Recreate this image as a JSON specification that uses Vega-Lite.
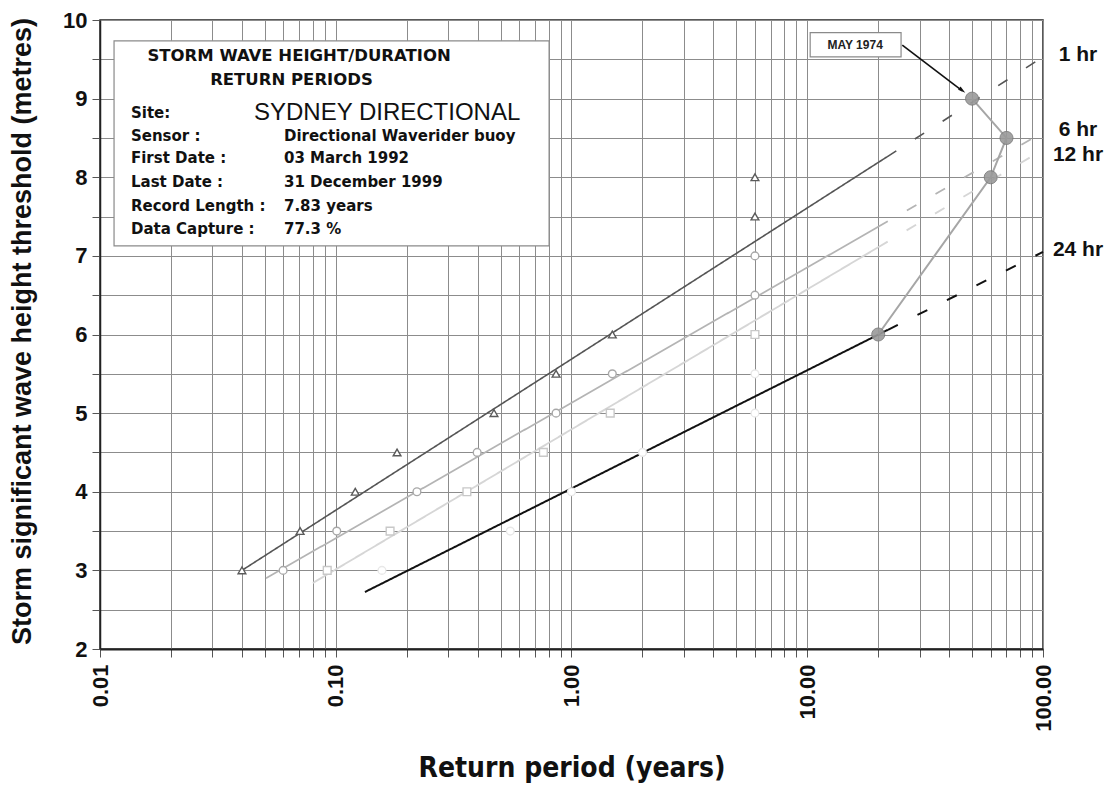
{
  "$schema": "https://vega.github.io/schema/vega-lite/v6.json",
  "width": 943,
  "height": 629,
  "autosize": {"type": "none"},
  "padding": {"left": 100, "top": 20, "right": 75, "bottom": 139},
  "background": "white",
  "config": {
    "view": {"stroke": "#222222", "strokeWidth": 1.5},
    "font": "Liberation Sans"
  },
  "datasets": {
    "fits": [
      {"duration": "1 hr", "part": "solid", "x": 0.04, "y": 3.0},
      {"duration": "1 hr", "part": "solid", "x": 21.8, "y": 8.26},
      {"duration": "1 hr", "part": "dashed", "x": 21.8, "y": 8.26},
      {"duration": "1 hr", "part": "dashed", "x": 100, "y": 9.53},
      {"duration": "6 hr", "part": "solid", "x": 0.0506, "y": 2.9},
      {"duration": "6 hr", "part": "solid", "x": 20, "y": 7.37},
      {"duration": "6 hr", "part": "dashed", "x": 20, "y": 7.37},
      {"duration": "6 hr", "part": "dashed", "x": 100, "y": 8.57},
      {"duration": "12 hr", "part": "solid", "x": 0.08, "y": 2.84},
      {"duration": "12 hr", "part": "solid", "x": 20, "y": 7.11},
      {"duration": "12 hr", "part": "dashed", "x": 20, "y": 7.11},
      {"duration": "12 hr", "part": "dashed", "x": 100, "y": 8.35},
      {"duration": "24 hr", "part": "solid", "x": 0.133, "y": 2.725},
      {"duration": "24 hr", "part": "solid", "x": 22, "y": 6.06},
      {"duration": "24 hr", "part": "dashed", "x": 22, "y": 6.06},
      {"duration": "24 hr", "part": "dashed", "x": 100, "y": 7.05}
    ],
    "obs": [
      {"duration": "1 hr", "x": 0.04, "y": 3.0},
      {"duration": "1 hr", "x": 0.0706, "y": 3.5},
      {"duration": "1 hr", "x": 0.121, "y": 4.0},
      {"duration": "1 hr", "x": 0.182, "y": 4.5},
      {"duration": "1 hr", "x": 0.469, "y": 5.0},
      {"duration": "1 hr", "x": 0.86, "y": 5.5},
      {"duration": "1 hr", "x": 1.49, "y": 6.0},
      {"duration": "1 hr", "x": 6.0, "y": 7.5},
      {"duration": "1 hr", "x": 6.0, "y": 8.0},
      {"duration": "6 hr", "x": 0.0598, "y": 3.0},
      {"duration": "6 hr", "x": 0.101, "y": 3.5},
      {"duration": "6 hr", "x": 0.221, "y": 4.0},
      {"duration": "6 hr", "x": 0.398, "y": 4.5},
      {"duration": "6 hr", "x": 0.86, "y": 5.0},
      {"duration": "6 hr", "x": 1.49, "y": 5.5},
      {"duration": "6 hr", "x": 6.0, "y": 6.5},
      {"duration": "6 hr", "x": 6.0, "y": 7.0},
      {"duration": "12 hr", "x": 0.092, "y": 3.0},
      {"duration": "12 hr", "x": 0.17, "y": 3.5},
      {"duration": "12 hr", "x": 0.36, "y": 4.0},
      {"duration": "12 hr", "x": 0.76, "y": 4.5},
      {"duration": "12 hr", "x": 1.46, "y": 5.0},
      {"duration": "12 hr", "x": 6.0, "y": 6.0},
      {"duration": "24 hr", "x": 0.157, "y": 3.0},
      {"duration": "24 hr", "x": 0.55, "y": 3.5},
      {"duration": "24 hr", "x": 1.0, "y": 4.0},
      {"duration": "24 hr", "x": 2.0, "y": 4.5},
      {"duration": "24 hr", "x": 6.0, "y": 5.0},
      {"duration": "24 hr", "x": 6.0, "y": 5.5}
    ],
    "storm": [
      {"order": 1, "x": 20, "y": 6.0},
      {"order": 2, "x": 60, "y": 8.0},
      {"order": 3, "x": 70, "y": 8.5},
      {"order": 4, "x": 50, "y": 9.0}
    ],
    "infoBox": [{"x": 0.01147, "x2": 0.8035, "y": 9.735, "y2": 7.127}],
    "infoTitle": [
      {"x": 0.0699, "y": 9.54, "label": "STORM WAVE HEIGHT/DURATION"},
      {"x": 0.0649, "y": 9.24, "label": "RETURN PERIODS"}
    ],
    "infoSite": [{"x": 0.045, "y": 8.82, "label": "SYDNEY DIRECTIONAL"}],
    "infoKeys": [
      {"x": 0.01353, "y": 8.82, "label": "Site:"},
      {"x": 0.01353, "y": 8.52, "label": "Sensor :"},
      {"x": 0.01353, "y": 8.24, "label": "First Date :"},
      {"x": 0.01353, "y": 7.94, "label": "Last Date :"},
      {"x": 0.01353, "y": 7.64, "label": "Record Length :"},
      {"x": 0.01353, "y": 7.34, "label": "Data Capture :"}
    ],
    "infoValues": [
      {"x": 0.0603, "y": 8.52, "label": "Directional Waverider buoy"},
      {"x": 0.0603, "y": 8.24, "label": "03 March 1992"},
      {"x": 0.0603, "y": 7.94, "label": "31 December 1999"},
      {"x": 0.0603, "y": 7.64, "label": "7.83 years"},
      {"x": 0.0603, "y": 7.34, "label": "77.3 %"}
    ],
    "noteBox": [{"x": 10.29, "x2": 25.0, "y": 9.84, "y2": 9.53}],
    "noteText": [{"x": 15.96, "y": 9.685, "label": "MAY 1974"}],
    "arrow": [
      {"x": 25.3, "y": 9.68},
      {"x": 45.5, "y": 9.1}
    ],
    "arrowTip": [{"x": 46.8, "y": 9.074}],
    "durLabels": [
      {"x": 100, "y": 9.56, "label": "1 hr"},
      {"x": 100, "y": 8.6, "label": "6 hr"},
      {"x": 100, "y": 8.28, "label": "12 hr"},
      {"x": 100, "y": 7.08, "label": "24 hr"}
    ]
  },
  "encoding": {
    "x": {
      "field": "x",
      "type": "quantitative",
      "scale": {"type": "log", "domain": [0.01, 100], "nice": false},
      "axis": {
        "values": [0.01, 0.02, 0.03, 0.04, 0.05, 0.06, 0.07, 0.08, 0.09, 0.1, 0.2, 0.3, 0.4, 0.5, 0.6, 0.7, 0.8, 0.9, 1, 2, 3, 4, 5, 6, 7, 8, 9, 10, 20, 30, 40, 50, 60, 70, 80, 90, 100],
        "labelExpr": "indexof([0.01, 0.1, 1, 10, 100], datum.value) >= 0 ? format(datum.value, '.2f') : ''",
        "labelAngle": 270,
        "labelAlign": "right",
        "labelBaseline": "middle",
        "labelOverlap": false,
        "labelFlush": false,
        "labelBound": false,
        "labelFont": "Liberation Sans",
        "labelFontWeight": "bold",
        "labelFontSize": 22,
        "labelColor": "#111111",
        "labelPadding": 7,
        "tickSize": 8,
        "tickColor": "#555555",
        "grid": true,
        "gridColor": "#8c8c8c",
        "gridWidth": 1,
        "domainColor": "#222222",
        "domainWidth": 2,
        "title": "Return period (years)",
        "titleFont": "'DejaVu Sans Condensed', 'Liberation Sans', sans-serif",
        "titleFontSize": 28,
        "titleFontWeight": "bold",
        "titleColor": "#111111",
        "titleY": 119,
        "titleBaseline": "middle"
      }
    },
    "y": {
      "field": "y",
      "type": "quantitative",
      "scale": {"domain": [2, 10], "nice": false, "zero": false},
      "axis": {
        "values": [2, 2.5, 3, 3.5, 4, 4.5, 5, 5.5, 6, 6.5, 7, 7.5, 8, 8.5, 9, 9.5, 10],
        "labelExpr": "datum.value % 1 === 0 ? format(datum.value, 'd') : ''",
        "labelOverlap": false,
        "labelFlush": false,
        "labelBound": false,
        "labelFont": "Liberation Sans",
        "labelFontWeight": "bold",
        "labelFontSize": 22,
        "labelColor": "#111111",
        "labelPadding": 5,
        "tickSize": 8,
        "tickColor": "#555555",
        "grid": true,
        "gridColor": "#8c8c8c",
        "gridWidth": 1,
        "domainColor": "#222222",
        "domainWidth": 1.5,
        "title": "Storm significant wave height threshold (metres)",
        "titleFont": "Liberation Sans",
        "titleFontSize": 27,
        "titleFontWeight": "bold",
        "titleColor": "#111111",
        "titleAngle": 270,
        "titleX": -78,
        "titleY": 311,
        "titleAlign": "center",
        "titleBaseline": "middle"
      }
    }
  },
  "layer": [
    {
      "data": {"name": "infoBox"},
      "mark": {"type": "rect", "fill": "white", "stroke": "#8a8a8a", "strokeWidth": 1.2},
      "encoding": {"x2": {"field": "x2"}, "y2": {"field": "y2"}}
    },
    {
      "data": {"name": "fits"},
      "mark": {"type": "line"},
      "encoding": {
        "color": {
          "field": "duration",
          "type": "nominal",
          "scale": {"domain": ["1 hr", "6 hr", "12 hr", "24 hr"], "range": ["#555555", "#b4b4b4", "#d6d6d6", "#111111"]},
          "legend": null
        },
        "strokeWidth": {
          "field": "duration",
          "type": "nominal",
          "scale": {"domain": ["1 hr", "6 hr", "12 hr", "24 hr"], "range": [1.6, 2, 2, 2.2]},
          "legend": null
        },
        "strokeDash": {
          "field": "part",
          "type": "nominal",
          "scale": {"domain": ["solid", "dashed"], "range": [[1, 0], [11, 22]]},
          "legend": null
        }
      }
    },
    {
      "data": {"name": "obs"},
      "mark": {"type": "point", "fill": "white", "fillOpacity": 1, "strokeWidth": 1.4, "size": 60, "opacity": 1},
      "encoding": {
        "shape": {
          "field": "duration",
          "type": "nominal",
          "scale": {"domain": ["1 hr", "6 hr", "12 hr", "24 hr"], "range": ["triangle-up", "circle", "square", "circle"]},
          "legend": null
        },
        "stroke": {
          "field": "duration",
          "type": "nominal",
          "scale": {"domain": ["1 hr", "6 hr", "12 hr", "24 hr"], "range": ["#5a5a5a", "#a8a8a8", "#c8c8c8", "#e8e8e8"]},
          "legend": null
        }
      }
    },
    {
      "data": {"name": "storm"},
      "mark": {"type": "line", "color": "#a6a6a6", "strokeWidth": 2},
      "encoding": {"order": {"field": "order", "type": "quantitative"}}
    },
    {
      "data": {"name": "storm"},
      "mark": {"type": "point", "filled": true, "color": "#9a9a9a", "stroke": "#7a7a7a", "strokeWidth": 1, "size": 170, "opacity": 0.9},
      "encoding": {}
    },
    {
      "data": {"name": "noteBox"},
      "mark": {"type": "rect", "fill": "white", "stroke": "#8a8a8a", "strokeWidth": 1.2},
      "encoding": {"x2": {"field": "x2"}, "y2": {"field": "y2"}}
    },
    {
      "data": {"name": "noteText"},
      "mark": {"type": "text", "font": "Liberation Sans", "fontWeight": "bold", "fontSize": 12, "color": "#222222", "align": "center", "baseline": "middle"},
      "encoding": {"text": {"field": "label"}}
    },
    {
      "data": {"name": "arrow"},
      "mark": {"type": "line", "color": "#111111", "strokeWidth": 1.6},
      "encoding": {}
    },
    {
      "data": {"name": "arrowTip"},
      "mark": {"type": "point", "shape": "M0,0L-0.45,1.7L0.45,1.7Z", "filled": true, "color": "#111111", "size": 80, "angle": 128.4, "opacity": 1},
      "encoding": {}
    },
    {
      "data": {"name": "durLabels"},
      "mark": {"type": "text", "font": "Liberation Sans", "fontWeight": "bold", "fontSize": 21, "color": "#111111", "align": "center", "baseline": "middle", "dx": 35},
      "encoding": {"text": {"field": "label"}}
    },
    {
      "data": {"name": "infoTitle"},
      "mark": {"type": "text", "font": "DejaVu Sans", "fontWeight": "bold", "fontSize": 16.5, "color": "#111111", "align": "center", "baseline": "middle"},
      "encoding": {"text": {"field": "label"}}
    },
    {
      "data": {"name": "infoSite"},
      "mark": {"type": "text", "font": "Liberation Sans", "fontSize": 24, "color": "#111111", "align": "left", "baseline": "middle"},
      "encoding": {"text": {"field": "label"}}
    },
    {
      "data": {"name": "infoKeys"},
      "mark": {"type": "text", "font": "DejaVu Sans", "fontWeight": "bold", "fontSize": 15, "color": "#111111", "align": "left", "baseline": "middle"},
      "encoding": {"text": {"field": "label"}}
    },
    {
      "data": {"name": "infoValues"},
      "mark": {"type": "text", "font": "DejaVu Sans", "fontWeight": "bold", "fontSize": 15, "color": "#111111", "align": "left", "baseline": "middle"},
      "encoding": {"text": {"field": "label"}}
    }
  ]
}
